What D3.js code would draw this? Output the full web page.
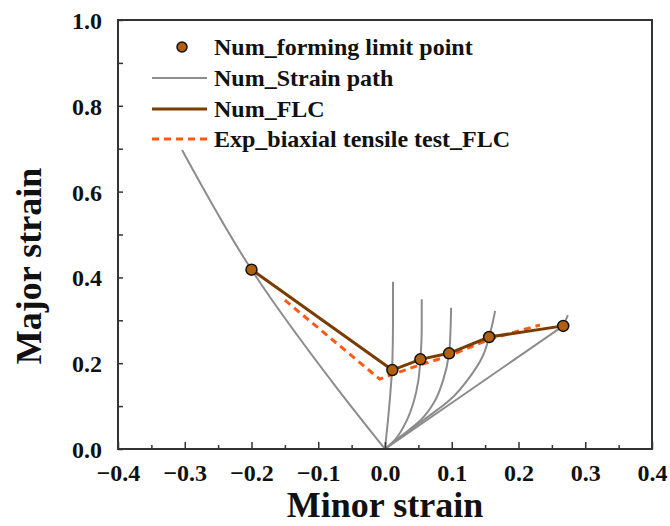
<!DOCTYPE html>
<html>
<head>
<meta charset="utf-8">
<script src="https://cdn.jsdelivr.net/npm/d3@7"></script>
<style>
  html, body { margin: 0; padding: 0; background: #fff; }
  svg { display: block; }
  text { font-family: "Liberation Serif", "Times New Roman", serif; font-weight: bold; fill: #111; }
</style>
</head>
<body>
<svg id="chart" width="670" height="526"></svg>
<script>
// ---------- data ----------
const xTicks = [-0.4, -0.3, -0.2, -0.1, 0.0, 0.1, 0.2, 0.3, 0.4];
const yTicks = [0.0, 0.2, 0.4, 0.6, 0.8, 1.0];
const xMinorTicks = [-0.35, -0.25, -0.15, -0.05, 0.05, 0.15, 0.25, 0.35];
const yMinorTicks = [0.1, 0.3, 0.5, 0.7, 0.9];

// Num forming limit points (minor, major)
const limitMinor = [-0.200, 0.011, 0.053, 0.096, 0.156, 0.267];
const limitMajor = [0.418, 0.184, 0.209, 0.223, 0.261, 0.287];

// Num strain paths (minor, major)
const pathUniaxial = [[0, 0], [-0.07, 0.138], [-0.2, 0.418], [-0.304, 0.697]];
const pathPlane = [[0, 0], [0.004, 0.06], [0.008, 0.13], [0.011, 0.2], [0.012, 0.3], [0.012, 0.39]];
const pathA = [[0, 0], [0.015, 0.022], [0.033, 0.068], [0.043, 0.11], [0.05, 0.16], [0.053, 0.209], [0.055, 0.28], [0.055, 0.349]];
const pathB = [[0, 0], [0.024, 0.03], [0.054, 0.068], [0.074, 0.11], [0.087, 0.16], [0.096, 0.223], [0.098, 0.27], [0.099, 0.329]];
const pathC = [[0, 0], [0.03, 0.035], [0.06, 0.07], [0.097, 0.114], [0.128, 0.17], [0.146, 0.215], [0.156, 0.261], [0.165, 0.322]];
const pathD = [[0, 0], [0.267, 0.287], [0.274, 0.312]];
const curvedPaths = [pathUniaxial, pathPlane, pathA, pathB, pathC];
const straightPaths = [pathD];

// Exp biaxial tensile test FLC
const expMinor = [-0.150, -0.008, 0.052, 0.094, 0.157, 0.232];
const expMajor = [0.347, 0.163, 0.196, 0.216, 0.256, 0.289];

const legendLabels = ["Num_forming limit point", "Num_Strain path", "Num_FLC", "Exp_biaxial tensile test_FLC"];

// ---------- layout ----------
const svg = d3.select("#chart");
const L = 118, T = 20, R = 652, B = 449;
const x = d3.scaleLinear().domain([-0.4, 0.4]).range([L, R]);
const y = d3.scaleLinear().domain([0, 1]).range([B, T]);

const cGray = "#8c8c8c", cBrown = "#7a3c00", cFill = "#b0600f", cOrange = "#ff5a14";

// strain paths
const curveLine = d3.line().x(d => x(d[0])).y(d => y(d[1])).curve(d3.curveMonotoneY);
const straightLine = d3.line().x(d => x(d[0])).y(d => y(d[1]));
svg.append("g").selectAll("path").data(curvedPaths).join("path")
  .attr("d", curveLine).attr("fill", "none").attr("stroke", cGray).attr("stroke-width", 2);
svg.append("g").selectAll("path").data(straightPaths).join("path")
  .attr("d", straightLine).attr("fill", "none").attr("stroke", cGray).attr("stroke-width", 2)
  .attr("stroke-linejoin", "round");

// exp FLC
const expLine = d3.line().x((d, i) => x(expMinor[i])).y((d, i) => y(expMajor[i]));
svg.append("path").datum(expMinor).attr("d", expLine)
  .attr("fill", "none").attr("stroke", cOrange).attr("stroke-width", 3).attr("stroke-dasharray", "7,5");

// num FLC
const flcLine = d3.line().x((d, i) => x(limitMinor[i])).y((d, i) => y(limitMajor[i]));
svg.append("path").datum(limitMinor).attr("d", flcLine)
  .attr("fill", "none").attr("stroke", cBrown).attr("stroke-width", 3);

svg.append("g").selectAll("circle").data(limitMinor).join("circle")
  .attr("cx", d => x(d)).attr("cy", (d, i) => y(limitMajor[i])).attr("r", 5.5)
  .attr("fill", cFill).attr("stroke", "#111").attr("stroke-width", 1.5);

// axes
const axCol = "#333";
const xAxis = svg.append("g").attr("transform", `translate(0,${B})`)
  .call(d3.axisBottom(x).tickValues(xTicks).tickSizeInner(-7).tickSizeOuter(0).tickPadding(15).tickFormat(d3.format(".1f")));
const xMinor = svg.append("g").attr("transform", `translate(0,${B})`)
  .call(d3.axisBottom(x).tickValues(xMinorTicks).tickSizeInner(-4).tickSizeOuter(0).tickFormat(""));
const yAxis = svg.append("g").attr("transform", `translate(${L},0)`)
  .call(d3.axisLeft(y).tickValues(yTicks).tickSizeInner(-5).tickSizeOuter(0).tickPadding(16).tickFormat(d3.format(".1f")));
const yMinor = svg.append("g").attr("transform", `translate(${L},0)`)
  .call(d3.axisLeft(y).tickValues(yMinorTicks).tickSizeInner(-5).tickSizeOuter(0).tickFormat(""));
[xAxis, xMinor, yAxis, yMinor].forEach(g => {
  g.attr("font-family", null);
  g.select(".domain").remove();
  g.selectAll("line").attr("stroke", axCol).attr("stroke-width", 1.5);
  g.selectAll("text").attr("font-size", 24);
});
xAxis.selectAll("text").attr("dy", "0.71em");
yAxis.selectAll("text").attr("dy", "0.35em");

// frame
svg.append("rect").attr("x", L).attr("y", T).attr("width", R - L).attr("height", B - T)
  .attr("fill", "none").attr("stroke", axCol).attr("stroke-width", 2);

// axis titles
svg.append("text").attr("x", (L + R) / 2).attr("y", 517).attr("text-anchor", "middle")
  .attr("font-size", 36).text("Minor strain");
svg.append("text").attr("transform", "translate(41,266) rotate(-90)").attr("text-anchor", "middle")
  .attr("font-size", 36).text("Major strain");

// legend
const lg = svg.append("g");
const rowY = [47, 78, 109, 139];
lg.append("circle").attr("cx", 182).attr("cy", rowY[0]).attr("r", 5)
  .attr("fill", cFill).attr("stroke", "#111").attr("stroke-width", 1.5);
lg.append("line").attr("x1", 152).attr("x2", 207).attr("y1", rowY[1]).attr("y2", rowY[1])
  .attr("stroke", cGray).attr("stroke-width", 2);
lg.append("line").attr("x1", 152).attr("x2", 207).attr("y1", rowY[2]).attr("y2", rowY[2])
  .attr("stroke", cBrown).attr("stroke-width", 3);
lg.append("line").attr("x1", 152).attr("x2", 207).attr("y1", rowY[3]).attr("y2", rowY[3])
  .attr("stroke", cOrange).attr("stroke-width", 3).attr("stroke-dasharray", "7,5");
lg.selectAll("text").data(legendLabels).join("text")
  .attr("x", 214).attr("y", (d, i) => rowY[i]).attr("dy", "0.35em")
  .attr("font-size", 24).text(d => d);
</script>
</body>
</html>
